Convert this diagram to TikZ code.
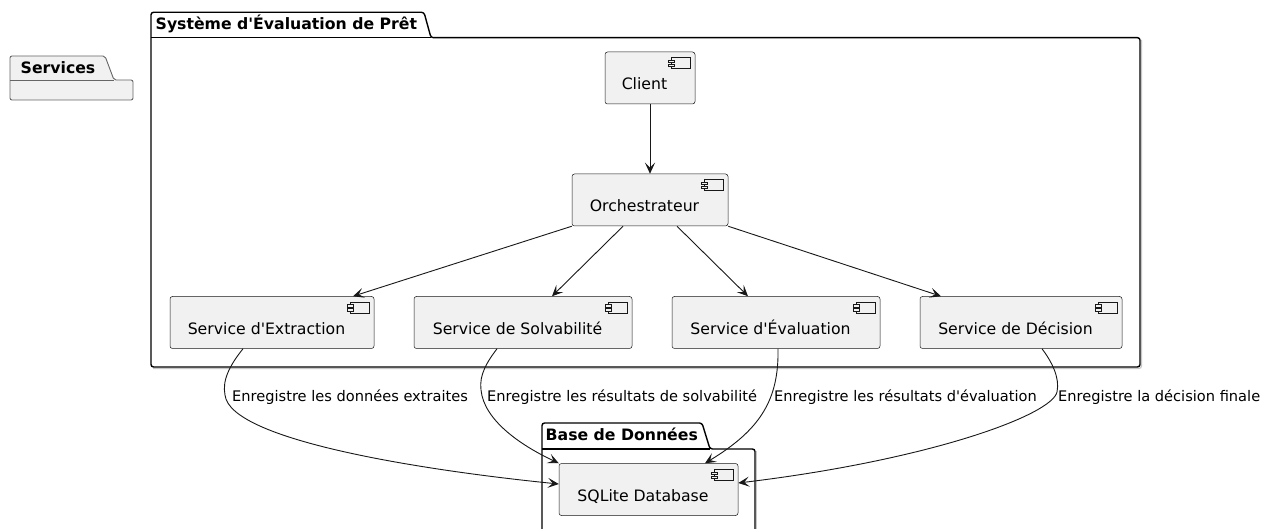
\documentclass[tikz,border=0pt]{standalone}
\usepackage{fontspec}
\setmainfont{DejaVu Sans}[Ligatures=TeXOff]
\usetikzlibrary{arrows.meta,calc}

\definecolor{compfill}{HTML}{F1F1F1}
\definecolor{ink}{HTML}{181818}

\newcommand\drawcompicon[1]{%
  \draw[icon] ($(#1.north east)+(-24,6)$) rectangle ($(#1.north east)+(-5,17)$);
  \draw[icon] ($(#1.north east)+(-27,8.5)$) rectangle ($(#1.north east)+(-21,11)$);
  \draw[icon] ($(#1.north east)+(-27,12.5)$) rectangle ($(#1.north east)+(-21,15)$);
}

\tikzset{
  comp/.style={draw=ink, fill=compfill, line width=0.5pt, rounded corners=2.5pt,
    minimum height=52pt, inner sep=0pt, text height=25pt, text depth=1.4pt,
    font=\fontsize{15.7}{18}\selectfont},
  icon/.style={draw=ink, fill=compfill, line width=0.5pt},
  conn/.style={draw=ink, line width=0.9pt, -{Stealth[length=11pt,width=10pt,inset=5pt]}},
  pkg/.style={draw=black, line width=1.4pt, rounded corners=2.5pt},
  pkgshadow/.style={draw=black!22, line width=1.2pt, rounded corners=2.5pt},
  pkgtitle/.style={anchor=base west, inner sep=0pt, font=\fontsize{15.7}{18}\selectfont\bfseries},
  lbl/.style={anchor=base west, inner sep=0pt, font=\fontsize{14.6}{17}\selectfont},
}

\begin{document}
\begin{tikzpicture}[x=1pt,y=-1pt]
\clip (0,0) rectangle (1264,529);
\fill[white] (0,0) rectangle (1264,529);

% empty package "Services"
\draw[draw=black!60, fill=compfill, line width=0.9pt, rounded corners=2pt]
  (10,80) -- (10,56) -- (105,56) -- (114,80) -- (133,80) -- (133,100) -- (10,100) -- cycle;
\draw[draw=black!60, line width=0.9pt] (10,80) -- (114,80);
\node[pkgtitle] (tservices) at (20.5,73.3) {Services};

% package "Système d'Évaluation de Prêt"
\draw[pkgshadow] (1141.5,40) -- (1141.5,368.5) -- (153,368.5);
\draw[pkg] (151,37.7) -- (151,12.3) -- (424,12.3) -- (431,37.7) -- (1140,37.7) -- (1140,367) -- (151,367) -- cycle;
\draw[pkg, rounded corners=0pt] (151,37.7) -- (431,37.7);
\node[pkgtitle] (tsys) at (155.5,29.3) {Système d'Évaluation de Prêt};

% package "Base de Données"
\draw[pkgshadow] (756.5,451) -- (756.5,540);
\draw[pkg] (542,449) -- (542,423) -- (702,423) -- (710,449) -- (755,449) -- (755,545) -- (542,545) -- cycle;
\draw[pkg, rounded corners=0pt] (542,449) -- (710,449);
\node[pkgtitle] (tbase) at (545.5,440.7) {Base de Données};

% components
\node[comp, minimum width=90pt]  (client) at (650,78)    {\hspace*{-11pt}Client};
\node[comp, minimum width=156pt] (orch)   at (650,200)   {\hspace*{-11pt}Orchestrateur};
\node[comp, minimum width=204pt] (ext)    at (272,322.5) {\hspace*{-11pt}Service d'Extraction};
\node[comp, minimum width=218pt] (solv)   at (523,322.5) {\hspace*{-11pt}Service de Solvabilité};
\node[comp, minimum width=208pt] (eval)   at (776,322.5) {\hspace*{-11pt}Service d'Évaluation};
\node[comp, minimum width=202pt] (dec)    at (1021,322.5){\hspace*{-11pt}Service de Décision};
\node[comp, minimum width=179pt] (db)     at (648.5,489.5){\hspace*{-11pt}SQLite Database};

\foreach \n in {client,orch,ext,solv,eval,dec,db}{\drawcompicon{\n}}

% calls inside the system
\draw[conn] (client.south) -- (orch.north);
\draw[conn] (orch.south west) -- ($(ext.north)+(81,0)$);
\draw[conn] ($(orch.south)+(-27,0)$) -- ($(solv.north)+(29,0)$);
\draw[conn] ($(orch.south)+(27,0)$) -- ($(eval.north)+(-28,0)$);
\draw[conn] (orch.south east) -- ($(dec.north)+(-80,0)$);

% persistence links
\draw[conn] ($(ext.south)+(-29,0)$) .. controls (230,365) and (222,380) .. (225,395)
  .. controls (230,440) and (420,470) .. ($(db.west)+(0,-5.5)$);
\draw[conn] ($(solv.south)+(-26,0)$) .. controls (487,362) and (479,375) .. (481,390)
  .. controls (484,420) and (520,445) .. (db.north west);
\draw[conn] ($(eval.south)+(2,0)$) .. controls (779,400) and (760,430) .. ($(db.north)+(56.5,0)$);
\draw[conn] ($(dec.south)+(21,0)$) .. controls (1052,362) and (1060,378) .. (1057,392)
  .. controls (1052,415) and (930,460) .. ($(db.east)+(0,-6.5)$);

\node[lbl] (l1) at (232,401.5)  {Enregistre les données extraites};
\node[lbl] (l2) at (487,401.5)  {Enregistre les résultats de solvabilité};
\node[lbl] (l3) at (774,401.5)  {Enregistre les résultats d'évaluation};
\node[lbl] (l4) at (1058,401.5) {Enregistre la décision finale};
\end{tikzpicture}
\end{document}
